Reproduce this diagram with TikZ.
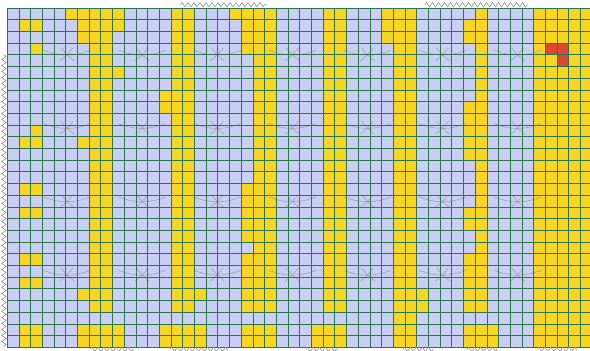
\documentclass[tikz,border=0pt]{standalone}
\usepackage{tikz}
\usetikzlibrary{decorations.pathmorphing}
\definecolor{cellblue}{RGB}{200,206,244}
\definecolor{cellyellow}{RGB}{246,214,32}
\definecolor{cellred}{RGB}{222,72,48}
\definecolor{gridgreen}{RGB}{46,116,78}

\begin{document}
\begin{tikzpicture}[x=5.85pt, y=-5.85pt,
    trail/.style={gray!75, line width=0.25pt},
    rim/.style={gray!85, line width=0.3pt, decorate,
      decoration={zigzag, segment length=3pt, amplitude=1.1pt}}]
  \useasboundingbox (-0.63,-0.7) rectangle (49.8,29.3);
  \clip (-0.63,-0.7) rectangle (49.8,29.3);

  % lattice cells
  \fill[cellblue] (0,0) rectangle (50,29);
  % yellow runs: col/row to col/row
  \foreach \a/\b/\c/\d in {1/1/3/2, 2/3/3/4, 2/10/3/11, 1/11/3/12, 1/15/3/16,
      1/17/3/18, 1/21/3/22, 1/23/3/24, 1/27/3/29,
      5/0/10/1, 6/1/10/2, 6/2/9/3, 7/3/9/26, 9/5/10/6, 6/11/7/12, 6/24/7/25, 6/27/10/29,
      14/0/16/26, 13/7/14/9, 16/24/17/25, 13/27/17/29,
      19/0/23/1, 20/1/23/4, 21/4/23/26, 20/15/21/20, 20/21/21/26, 20/27/23/29,
      27/0/29/26, 26/27/29/29,
      32/0/33/3, 33/0/35/29, 35/24/36/26,
      40/0/41/26, 39/1/40/3, 39/8/40/13, 39/17/40/19, 39/21/40/26, 39/27/42/29,
      45/0/50/29}
    \fill[cellyellow] (\a,\b) rectangle (\c,\d);
  \foreach \a/\b in {46/3,47/3,47/4}
    \fill[cellred] (\a,\b) rectangle ++(1,1);

  % faint trails
  \foreach \i in {0,...,6}
    \foreach \j in {0,...,3} {
      \pgfmathsetmacro{\px}{5.1+6.42*\i}
      \pgfmathsetmacro{\py}{4.0+6.27*\j}
      \draw[trail] (\px,\py) -- ++(0.6,0.5) (\px,\py) -- ++(-0.6,0.5)
        (\px,\py) -- ++(0.5,-0.6) (\px,\py) -- ++(-0.5,-0.6);
      \draw[trail] (\px,\py) to[out=0,in=200] ++(2,-0.4)
        (\px,\py) to[out=180,in=-20] ++(-2,-0.4);
    }

  % grid
  \foreach \k in {0,...,50}
    \draw[gridgreen, line width=0.5pt] (\k,0) -- (\k,29);
  \foreach \k in {0,...,29}
    \draw[gridgreen, line width=0.5pt] (0,\k) -- (50,\k);

  % ragged rims
  \foreach \s/\e in {14.8/22.2, 35.7/44.5}
    \draw[rim] (\s,-0.3) -- (\e,-0.3);
  \foreach \s/\e in {7.1/10.8, 13.9/18.9, 25.5/28.3, 33.8/36.4, 39.3/41.9, 45.3/48.7}
    \draw[rim] (\s,29.15) -- (\e,29.15);
  \draw[rim] (-0.3,4) -- (-0.3,29);
\end{tikzpicture}
\end{document}
